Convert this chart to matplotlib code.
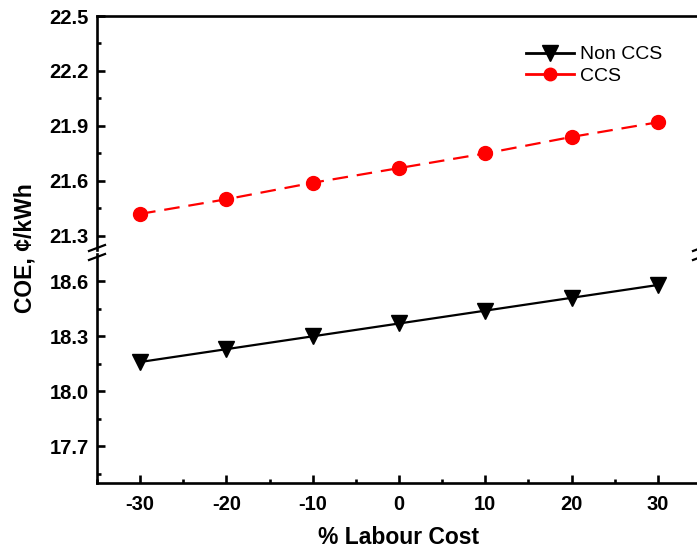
import numpy as np
import matplotlib
matplotlib.use('Agg')
import matplotlib.pyplot as plt
from matplotlib.ticker import MultipleLocator

plt.rcParams['font.family'] = ['Liberation Sans', 'DejaVu Sans']
plt.rcParams['axes.unicode_minus'] = False

labour = [-30, -20, -10, 0, 10, 20, 30]
coe_non_ccs = [18.16, 18.23, 18.30, 18.37, 18.44, 18.51, 18.58]
coe_ccs = [21.42, 21.50, 21.59, 21.67, 21.75, 21.84, 21.92]

W, H = 697, 548
fig = plt.figure(figsize=(W / 100, H / 100), dpi=100)

def frac(x0, y0, x1, y1):
    # pixel box (top-left origin) -> figure fraction [l, b, w, h]
    return [x0 / W, 1 - y1 / H, (x1 - x0) / W, (y1 - y0) / H]

ax_top = fig.add_axes(frac(97, 16, 701, 250))
ax_bot = fig.add_axes(frac(97, 254, 701, 483))

lw_sp = 1.9
for ax in (ax_top, ax_bot):
    ax.set_xlim(-35, 35)
    for s in ax.spines.values():
        s.set_linewidth(lw_sp)
    ax.tick_params(axis='both', which='major', direction='in', length=6, width=lw_sp,
                   labelsize=14.5, pad=6)
    ax.tick_params(axis='both', which='minor', direction='in', length=3, width=lw_sp)
    ax.yaxis.set_major_locator(MultipleLocator(0.3))
    ax.yaxis.set_minor_locator(MultipleLocator(0.15))
    ax.tick_params(right=False, top=False, which='both')

ax_top.set_ylim(21.223, 22.5)
ax_bot.set_ylim(17.5, 18.749)
ax_top.set_yticks([21.3, 21.6, 21.9, 22.2, 22.5])
ax_bot.set_yticks([17.7, 18.0, 18.3, 18.6])

ax_top.spines['bottom'].set_visible(False)
ax_top.tick_params(axis='x', which='both', bottom=False, labelbottom=False)
ax_bot.spines['top'].set_visible(False)
ax_bot.xaxis.set_major_locator(MultipleLocator(10))
ax_bot.xaxis.set_minor_locator(MultipleLocator(5))
ax_bot.tick_params(axis='x', pad=9)

for ax in (ax_top, ax_bot):
    for lab in ax.get_yticklabels() + ax.get_xticklabels():
        lab.set_fontweight('bold')

ax_bot.plot(labour, coe_non_ccs, color='black', lw=1.6, marker='v',
            markersize=12, clip_on=False)
ax_top.plot(labour, coe_ccs, color='red', lw=1.6, marker='o', markersize=10,
            dashes=(7, 4), clip_on=False)
# proxy handles so the legend lines are solid
h1, = ax_top.plot([], [], color='black', lw=2, marker='v', markersize=11)
h2, = ax_top.plot([], [], color='red', lw=2, marker='o', markersize=9)
fig.legend([h1, h2], ['Non CCS', 'CCS'], loc='upper left',
           bbox_to_anchor=(516 / W, 1 - 36 / H), frameon=False, fontsize=14,
           handlelength=2.5, handletextpad=0.3, labelspacing=0.2, borderpad=0)

# axis break marks on both spines
for xs in (97, 701):
    for dy in (-4, 5):
        y = 252 + dy
        fig.add_artist(plt.Line2D([(xs - 8) / W, (xs + 8) / W],
                                  [1 - (y + 3) / H, 1 - (y - 3) / H],
                                  color='black', lw=1.6))

fig.text(399 / W, 1 - 537 / H, '% Labour Cost', fontsize=16.5, fontweight='bold',
         ha='center', va='center')
fig.text(25 / W, 1 - 248 / H, 'COE, ¢/kWh', rotation=90, fontsize=16.5,
         fontweight='bold', ha='center', va='center')

fig.savefig('out.png', dpi=100)
